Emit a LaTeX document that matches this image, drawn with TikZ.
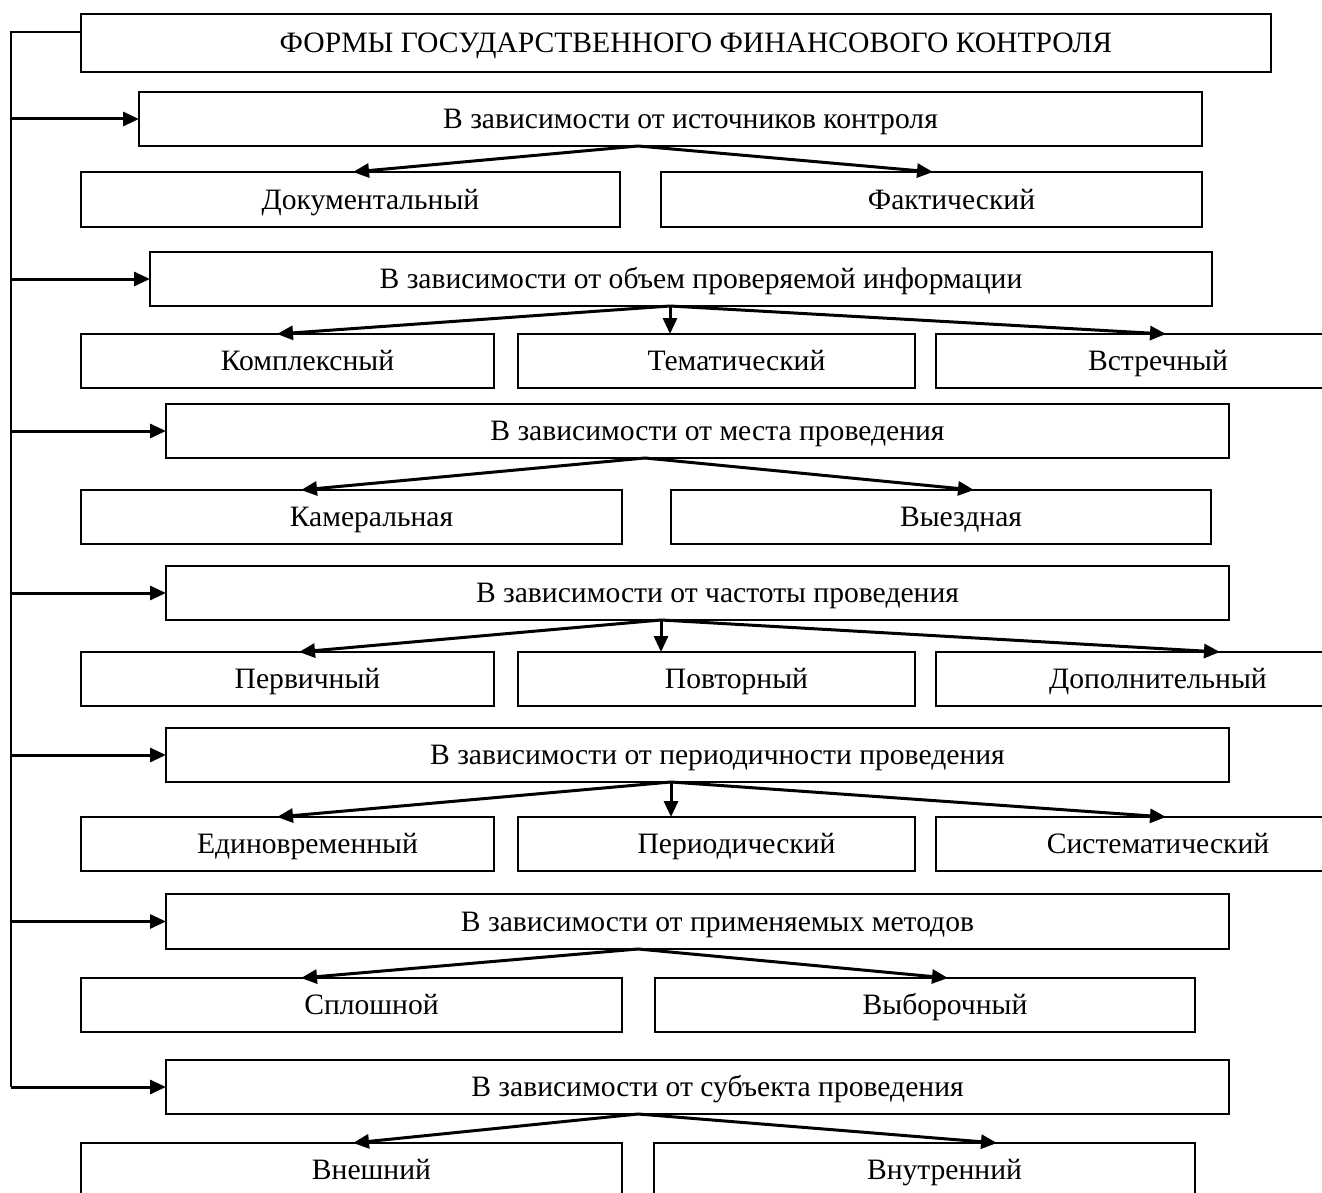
\documentclass[tikz,border=0pt]{standalone}
\usepackage{fontspec}
\setmainfont{Liberation Serif}
\usetikzlibrary{arrows.meta}

% box from corner (x1,y1) to (x2,y2), y measured downward
\newcommand{\mkbox}[6]{%
  \node[cell, minimum width={(#4-#2)*1pt}, minimum height={(#5-#3)*1pt}]
    (#1) at ({(#2+#4)/2},{(#3+#5)/2}) {#6};}
% arrow from a point on a header's lower edge to a child's upper edge
\newcommand{\fan}[4]{%
  \draw[link] ([xshift=#2pt]#1.south) -- ([xshift=#4pt]#3.north);}

\tikzset{
  cell/.style={draw, line width=1.8pt, inner sep=0pt, outer sep=0pt,
    font=\fontsize{29.6}{34}\selectfont,
    text height=19.5pt, text depth=0pt,
    execute at begin node={\hspace*{40pt}}},
  link/.style={line width=3pt, -{Triangle[length=16pt,width=14pt]}},
  trunkline/.style={line width=2pt},
}

\begin{document}
\begin{tikzpicture}[x=1pt,y=-1pt]
\useasboundingbox (0,0) rectangle (1322,1193);
\fill[white] (0,0) rectangle (1322,1193);
\clip (0,0) rectangle (1322,1193);

\mkbox{T}{81}{14}{1271}{72}{ФОРМЫ ГОСУДАРСТВЕННОГО ФИНАНСОВОГО КОНТРОЛЯ}

\mkbox{h1}{139}{92}{1202}{146}{В зависимости от источников контроля}
\mkbox{c11}{81}{172}{620}{227}{Документальный}
\mkbox{c12}{661}{172}{1202}{227}{Фактический}

\mkbox{h2}{150}{252}{1212}{306}{В зависимости от объем проверяемой информации}
\mkbox{c21}{81}{334}{494}{388}{Комплексный}
\mkbox{c22}{518}{334}{915}{388}{Тематический}
\mkbox{c23}{936}{334}{1340}{388}{Встречный}

\mkbox{h3}{166}{404}{1229}{458}{В зависимости от места проведения}
\mkbox{c31}{81}{490}{622}{544}{Камеральная}
\mkbox{c32}{671}{490}{1211}{544}{Выездная}

\mkbox{h4}{166}{566}{1229}{620}{В зависимости от частоты проведения}
\mkbox{c41}{81}{652}{494}{706}{Первичный}
\mkbox{c42}{518}{652}{915}{706}{Повторный}
\mkbox{c43}{936}{652}{1340}{706}{Дополнительный}

\mkbox{h5}{166}{728}{1229}{782}{В зависимости от периодичности проведения}
\mkbox{c51}{81}{817}{494}{871}{Единовременный}
\mkbox{c52}{518}{817}{915}{871}{Периодический}
\mkbox{c53}{936}{817}{1340}{871}{Систематический}

\mkbox{h6}{166}{894}{1229}{949}{В зависимости от применяемых методов}
\mkbox{c61}{81}{978}{622}{1032}{Сплошной}
\mkbox{c62}{655}{978}{1195}{1032}{Выборочный}

\mkbox{h7}{166}{1060}{1229}{1114}{В зависимости от субъекта проведения}
\mkbox{c71}{81}{1143}{622}{1197}{Внешний}
\mkbox{c72}{654}{1143}{1195}{1197}{Внутренний}

% left trunk feeding every group header
\coordinate (trunk) at (11,32);
\draw[trunkline] ([yshift=11pt]T.west) -- (trunk) -- (trunk |- h7.west);
\foreach \h in {h1,h2,h3,h4,h5,h6,h7}
  \draw[link] (trunk |- \h.west) -- (\h.west);

% header -> items
\fan{h1}{-32.5}{c11}{2.5}
\fan{h1}{-32.5}{c12}{1.5}

\fan{h2}{-11}{c21}{-10.5}
\fan{h2}{-11}{c22}{-46.5}
\fan{h2}{-11}{c23}{28}

\fan{h3}{-52.5}{c31}{-50.5}
\fan{h3}{-52.5}{c32}{33}

\fan{h4}{-36.5}{c41}{11.5}
\fan{h4}{-36.5}{c42}{-55.5}
\fan{h4}{-36.5}{c43}{82}

\fan{h5}{-26.5}{c51}{-10.5}
\fan{h5}{-26.5}{c52}{-45.5}
\fan{h5}{-26.5}{c53}{28}

\fan{h6}{-59.5}{c61}{-50.5}
\fan{h6}{-59.5}{c62}{23}

\fan{h7}{-59.5}{c71}{1.5}
\fan{h7}{-59.5}{c72}{72.5}
\end{tikzpicture}
\end{document}
